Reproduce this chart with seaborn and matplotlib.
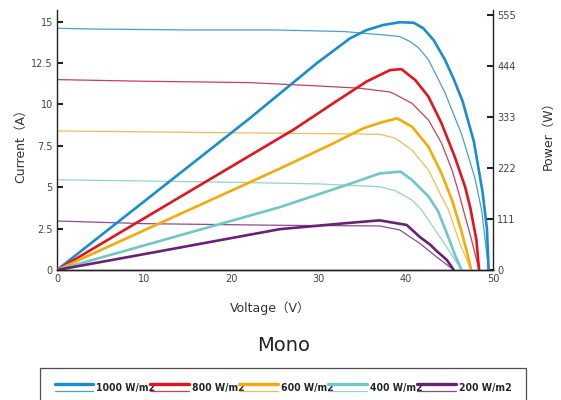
import numpy as np
import pandas as pd
import seaborn as sns
import matplotlib.pyplot as plt
from matplotlib.lines import Line2D
from matplotlib.legend_handler import HandlerBase
from matplotlib.ticker import FuncFormatter

# irradiance levels
levels = ["1000 W/m2", "800 W/m2", "600 W/m2", "400 W/m2", "200 W/m2"]

# I-V curves (thin lines, left axis) - voltage (V) / current (A)
iv_v_1000 = [0, 5, 15, 25, 33, 37.4, 39.3, 40.5, 41.5, 42.6, 44.5, 46.4, 47.9, 48.7, 49.5]
iv_i_1000 = [14.6, 14.55, 14.5, 14.5, 14.4, 14.2, 14.1, 13.8, 13.4, 12.7, 10.7, 8.2, 5.6, 3.6, 0]
iv_v_800 = [0, 10, 22, 29.8, 34.7, 38.2, 38.8, 40.7, 42.6, 44.1, 45.3, 46.2, 46.6, 47.5, 48.4]
iv_i_800 = [11.5, 11.4, 11.32, 11.12, 10.98, 10.75, 10.6, 10.07, 9.06, 7.66, 6.04, 4.43, 3.63, 1.9, 0]
iv_v_600 = [0, 25.6, 37, 38.8, 40.7, 42.6, 44.1, 44.9, 46.2, 47.5]
iv_i_600 = [8.4, 8.26, 8.2, 7.96, 7.25, 6.04, 4.43, 3.63, 1.6, 0]
iv_v_400 = [0, 20, 30, 37, 38.8, 40.7, 41.8, 43.9, 45.4, 46.4]
iv_i_400 = [5.45, 5.3, 5.2, 5.03, 4.79, 4.23, 3.63, 2.01, 0.8, 0]
iv_v_200 = [0, 10, 25.6, 37, 39.3, 41.6, 43.5, 45.5]
iv_i_200 = [2.96, 2.8, 2.7, 2.66, 2.42, 1.61, 0.8, 0]

# P-V curves (thick lines, right axis) - voltage (V) / power (W)
pv_v_1000 = [0, 22.1, 29.8, 33.6, 35.5, 37.4, 39.3, 40.9, 42.0, 43.2, 44.5, 45.5, 46.5, 47.8, 48.8, 49.3, 49.5]
pv_p_1000 = [0, 330, 450, 504, 522, 533, 539, 538, 526, 500, 457, 415, 368, 280, 170, 90, 0]
pv_v_800 = [0, 27.1, 31.7, 35.5, 38.2, 39.5, 41.1, 42.6, 44.1, 45.6, 46.8, 47.4, 48.1, 48.4]
pv_p_800 = [0, 305, 363, 410, 435, 437, 413, 377, 319, 247, 181, 135, 65, 0]
pv_v_600 = [0, 25.6, 31.3, 35.1, 37, 39.0, 40.7, 42.6, 44.1, 45.3, 46.3, 47.0, 47.5]
pv_p_600 = [0, 221, 272, 308, 320, 330, 312, 268, 210, 152, 90, 40, 0]
pv_v_400 = [0, 25.6, 33.2, 37, 39.4, 40.7, 42.6, 43.7, 44.7, 45.7, 46.4]
pv_p_400 = [0, 137, 185, 210, 214, 196, 160, 128, 80, 30, 0]
pv_v_200 = [0, 10.7, 25.6, 33.2, 37, 40.1, 41.6, 42.8, 43.5, 44.7, 45.5]
pv_p_200 = [0, 37, 89, 102, 108, 98, 72, 55, 42, 22, 0]

iv_v = [iv_v_1000, iv_v_800, iv_v_600, iv_v_400, iv_v_200]
iv_i = [iv_i_1000, iv_i_800, iv_i_600, iv_i_400, iv_i_200]
pv_v = [pv_v_1000, pv_v_800, pv_v_600, pv_v_400, pv_v_200]
pv_p = [pv_p_1000, pv_p_800, pv_p_600, pv_p_400, pv_p_200]

current_ticks = [0, 2.5, 5, 7.5, 10, 12.5, 15]
power_ticks = [0, 111, 222, 333, 444, 555]
voltage_ticks = [0, 10, 20, 30, 40, 50]

# colors
thick_colors = dict(zip(levels, ["#1a8dcf", "#e1141f", "#f5a90a", "#6fc7c9", "#6c1f77"]))
thin_colors = dict(zip(levels, ["#4a9fd2", "#c8405a", "#f2bd55", "#93d2d3", "#8d4c94"]))

df_iv = pd.concat([pd.DataFrame({"voltage": v, "current": i, "level": lv})
                   for lv, v, i in zip(levels, iv_v, iv_i)], ignore_index=True)
df_pv = pd.concat([pd.DataFrame({"voltage": v, "power": p, "level": lv})
                   for lv, v, p in zip(levels, pv_v, pv_p)], ignore_index=True)

sns.set_style("white")
plt.rcParams['font.family'] = ['DejaVu Sans', 'Noto Sans CJK SC']

fig, ax = plt.subplots(figsize=(5.61, 4.0), dpi=100)
fig.subplots_adjust(left=0.1016, right=0.8788, bottom=0.325, top=0.974)
ax2 = ax.twinx()

sns.lineplot(data=df_iv, x="voltage", y="current", hue="level", palette=thin_colors,
             sort=False, estimator=None, lw=0.9, ax=ax, legend=False)
sns.lineplot(data=df_pv, x="voltage", y="power", hue="level", palette=thick_colors,
             sort=False, estimator=None, lw=1.9, ax=ax2, legend=False)

ax.set_xlim(0, 50)
ax.set_ylim(0, 15.68)
ax2.set_ylim(0, 564.8)
ax.set_xticks(voltage_ticks)
ax.set_yticks(current_ticks)
ax2.set_yticks(power_ticks)
ax.yaxis.set_major_formatter(FuncFormatter(lambda v, p: f"{v:g}"))

for a in (ax, ax2):
    a.spines['top'].set_visible(False)
    for s in a.spines.values():
        s.set_color('#222222')
        s.set_linewidth(1.0)
    a.tick_params(direction='in', length=4, width=1.5, labelsize=7, labelcolor='#444444',
                  color='#222222', pad=3)
ax2.spines['left'].set_visible(False)
ax.spines['right'].set_visible(False)

ax.set_xlabel("Voltage（V）", fontsize=9, color='#333333')
ax.xaxis.set_label_coords(0.49, -0.12)
ax.set_ylabel("Current（A）", fontsize=9, color='#333333')
ax.yaxis.set_label_coords(-0.068, 0.49)
ax2.set_ylabel("Power（W）", fontsize=9, color='#333333')
ax2.yaxis.set_label_coords(1.112, 0.53)

fig.text(0.505, 0.137, "Mono", fontsize=14, color='#222222', ha='center', va='center')


class TwinLineHandler(HandlerBase):
    def create_artists(self, legend, orig_handle, xdescent, ydescent, width, height, fontsize, trans):
        thick, thin = orig_handle
        y_top = height * 0.85 - ydescent
        y_bot = height * 0.0 - ydescent
        l1 = Line2D([-xdescent, width - xdescent], [y_top, y_top],
                    color=thick.get_color(), lw=thick.get_linewidth())
        l2 = Line2D([-xdescent, width - xdescent], [y_bot, y_bot],
                    color=thin.get_color(), lw=thin.get_linewidth())
        l1.set_transform(trans)
        l2.set_transform(trans)
        return [l1, l2]


handles = [(Line2D([], [], color=thick_colors[lv], lw=2.4),
            Line2D([], [], color=thin_colors[lv], lw=0.9)) for lv in levels]
leg = fig.legend(handles, levels, handler_map={tuple: TwinLineHandler()},
                 loc='upper left', bbox_to_anchor=(40 / 561, 0, 486 / 561, 1 - 368 / 400),
                 mode='expand', ncol=5, frameon=True, fancybox=False, borderaxespad=0,
                 handlelength=3.7, handletextpad=0.3, columnspacing=0.2, borderpad=1.4,
                 prop={'family': 'DejaVu Sans', 'weight': 'bold', 'stretch': 'condensed', 'size': 7.5})
leg.get_frame().set_edgecolor('#222222')
leg.get_frame().set_linewidth(0.9)

plt.savefig("out.png", dpi=100)
